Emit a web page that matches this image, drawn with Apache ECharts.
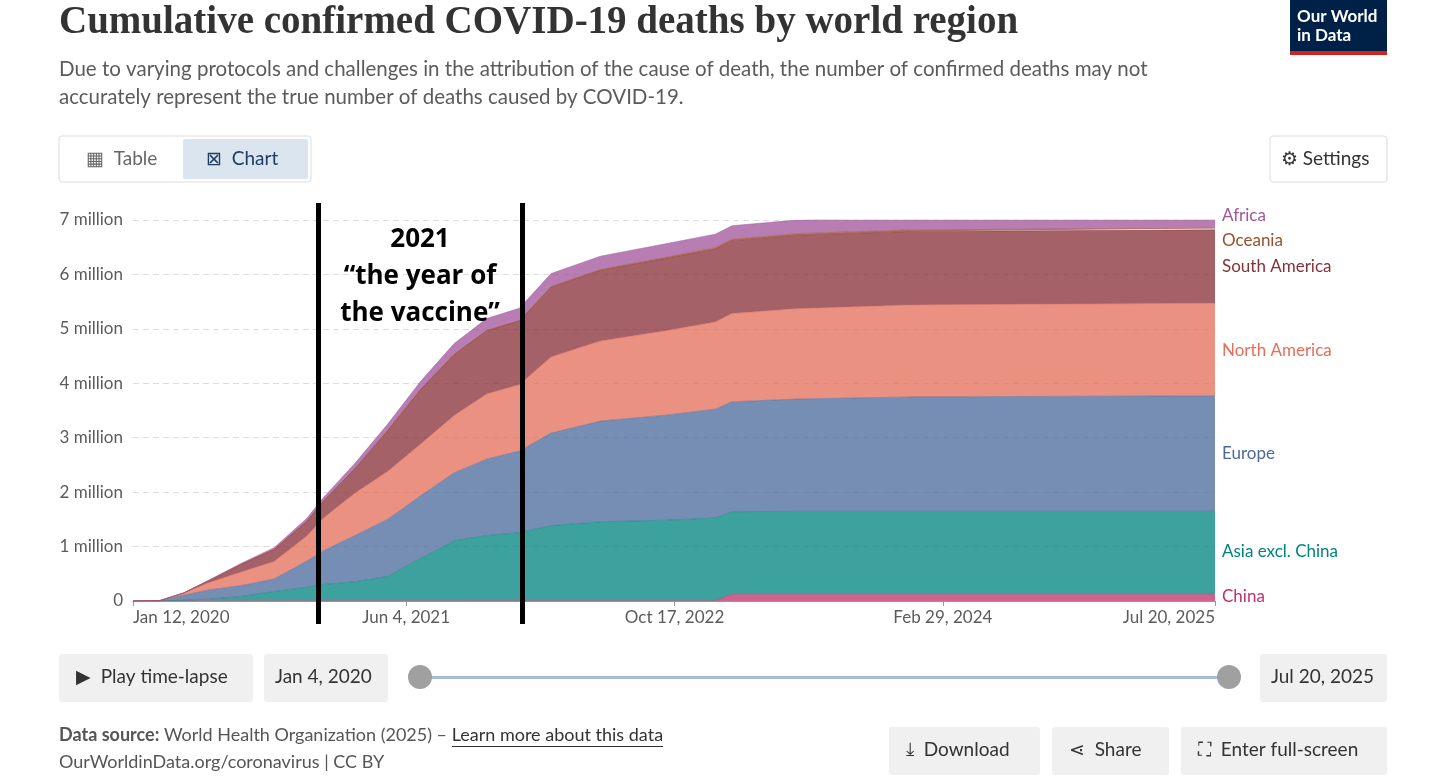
<!DOCTYPE html>
<html><head><meta charset="utf-8">
<script src="https://cdn.jsdelivr.net/npm/echarts@6/dist/echarts.min.js"></script>
<style>html,body{margin:0;background:#fff}#c{width:1456px;height:781px}</style>
</head><body><div id="c"></div>
<script>
// dates of the readings
const dates = ['2020-01-12','2020-03-01','2020-04-15','2020-06-01','2020-08-01','2020-10-01','2020-12-01','2021-01-01','2021-03-01','2021-05-01','2021-07-01','2021-09-01','2021-11-01','2022-01-01','2022-03-01','2022-06-01','2022-10-01','2023-01-01','2023-02-01','2023-06-01','2024-01-01','2025-07-20'];
// values in millions, bottom layer first
const china    = [0,0.003,0.004,0.004,0.004,0.004,0.004,0.004,0.004,0.004,0.004,0.004,0.005,0.005,0.005,0.005,0.005,0.005,0.12,0.12,0.12,0.12];
const asia     = [0,0,0.01,0.03,0.08,0.17,0.25,0.3,0.35,0.45,0.78,1.1,1.2,1.25,1.38,1.45,1.48,1.52,1.52,1.53,1.53,1.53];
const europe   = [0,0.002,0.09,0.17,0.2,0.23,0.48,0.62,0.85,1.05,1.15,1.25,1.4,1.5,1.7,1.85,1.93,2.0,2.02,2.06,2.1,2.12];
const namerica = [0,0,0.04,0.13,0.25,0.32,0.46,0.6,0.78,0.88,0.95,1.05,1.2,1.22,1.4,1.47,1.55,1.6,1.62,1.66,1.69,1.7];
const samerica = [0,0,0.002,0.04,0.14,0.22,0.27,0.31,0.45,0.75,1.0,1.12,1.16,1.17,1.28,1.3,1.33,1.34,1.34,1.35,1.35,1.35];
const oceania  = [0,0,0,0,0,0.001,0.001,0.001,0.001,0.001,0.002,0.003,0.004,0.005,0.01,0.015,0.02,0.025,0.025,0.028,0.03,0.03];
const africa   = [0,0,0.001,0.005,0.02,0.035,0.055,0.065,0.1,0.12,0.15,0.2,0.22,0.23,0.24,0.245,0.25,0.25,0.25,0.25,0.25,0.25];
const tickDates = ['2020-01-12','2021-06-04','2022-10-17','2024-02-29','2025-07-20'];
const tickLabels = ['Jan 12, 2020','Jun 4, 2021','Oct 17, 2022','Feb 29, 2024','Jul 20, 2025'];

const regions = [
  ['China', china, '#c0306a'],
  ['Asia excl. China', asia, '#00847e'],
  ['Europe', europe, '#4c6a9c'],
  ['North America', namerica, '#e56e5a'],
  ['South America', samerica, '#883039'],
  ['Oceania', oceania, '#9a5129'],
  ['Africa', africa, '#a2559c']
];
const labelY = {'Africa':217,'Oceania':242,'South America':268,'North America':352,'Europe':455,'Asia excl. China':553,'China':598};
const F = 'Lato, "Noto Sans", sans-serif';
const ts = d => new Date(d + 'T00:00:00Z').getTime();
const tickTs = tickDates.map(ts);

const series = regions.map(([name, vals, col]) => ({
  name, type:'line', stack:'all', symbol:'none', xAxisIndex:0,
  lineStyle:{width:0.5, color:col}, areaStyle:{color:col, opacity:0.76},
  data: dates.map((d,i)=>[ts(d), vals[i]*1e6])
}));

const g = [];
// title and subtitle
g.push({type:'text',left:59,top:3,style:{text:'Cumulative confirmed COVID-19 deaths by world region',font:'bold 39px "Liberation Serif", serif',fill:'#333'}});
g.push({type:'text',left:59,top:55,style:{text:'Due to varying protocols and challenges in the attribution of the cause of death, the number of confirmed deaths may not\naccurately represent the true number of deaths caused by COVID-19.',font:'20.5px '+F,fill:'#5b5b5b',lineHeight:28}});
// logo
g.push({type:'rect',shape:{x:1290,y:0,width:97,height:52},style:{fill:'#002147'}});
g.push({type:'rect',shape:{x:1290,y:51,width:97,height:4},style:{fill:'#ce261e'}});
g.push({type:'text',left:1297,top:7,style:{text:'Our World\nin Data',font:'bold 17px '+F,fill:'#fff',lineHeight:19}});
// table / chart toggle
g.push({type:'rect',shape:{x:59,y:136,width:252,height:46,r:3},style:{fill:'#fff',stroke:'#ddd'}});
g.push({type:'rect',shape:{x:183,y:139,width:125,height:40,r:2},style:{fill:'#dbe5f0'}});
g.push({type:'text',left:86,top:149,style:{text:'▦  Table',font:'19px '+F,fill:'#666'}});
g.push({type:'text',left:206,top:149,style:{text:'⊠  Chart',font:'19px '+F,fill:'#1d3d63'}});
g.push({type:'rect',shape:{x:1270,y:136,width:117,height:46,r:3},style:{fill:'#fff',stroke:'#ddd'}});
g.push({type:'text',left:1281,top:149,style:{text:'⚙ Settings',font:'19px '+F,fill:'#333'}});
// annotation
g.push({type:'rect',shape:{x:316,y:203,width:5,height:421},style:{fill:'#000'},z:100});
g.push({type:'rect',shape:{x:520,y:203,width:5,height:421},style:{fill:'#000'},z:100});
g.push({type:'text',x:420,y:221,z:100,style:{text:'2021\n“the year of\nthe vaccine”',font:'bold 26px "Open Sans", sans-serif',fill:'#000',align:'center',lineHeight:37}});
// region labels
regions.forEach(([name,,col])=>g.push({type:'text',left:1222,top:labelY[name]-10,style:{text:name,font:'17px '+F,fill:col}}));
// timeline controls
g.push({type:'rect',shape:{x:59,y:654,width:194,height:48,r:3},style:{fill:'#f0f0f0'}});
g.push({type:'text',left:76,top:667,style:{text:'▶  Play time-lapse',font:'19px '+F,fill:'#333'}});
g.push({type:'rect',shape:{x:264,y:654,width:124,height:48,r:3},style:{fill:'#f0f0f0'}});
g.push({type:'text',left:275,top:667,style:{text:'Jan 4, 2020',font:'19px '+F,fill:'#333'}});
g.push({type:'rect',shape:{x:420,y:676,width:810,height:3},style:{fill:'#a7bcd6'}});
g.push({type:'circle',shape:{cx:420,cy:677,r:12},style:{fill:'#a0a0a0'}});
g.push({type:'circle',shape:{cx:1229,cy:677,r:12},style:{fill:'#a0a0a0'}});
g.push({type:'rect',shape:{x:1260,y:654,width:127,height:48,r:3},style:{fill:'#f0f0f0'}});
g.push({type:'text',left:1271,top:667,style:{text:'Jul 20, 2025',font:'19px '+F,fill:'#333'}});
// footer
g.push({type:'text',left:59,top:726,style:{rich:{b:{font:'bold 18px '+F,fill:'#555'},n:{font:'18px '+F,fill:'#555'},u:{font:'18px '+F,fill:'#333'}},text:'{b|Data source:}{n| World Health Organization (2025) – }{u|Learn more about this data}'}});
g.push({type:'rect',shape:{x:452,y:746,width:211,height:1},style:{fill:'#333'}});
g.push({type:'text',left:59,top:753,style:{text:'OurWorldinData.org/coronavirus | CC BY',font:'18px '+F,fill:'#555'}});
[[889,151,'⤓  Download'],[1052,117,'⋖  Share'],[1181,206,'⛶  Enter full-screen']].forEach(([x,w,t])=>{
  g.push({type:'rect',shape:{x,y:727,width:w,height:48,r:3},style:{fill:'#f0f0f0'}});
  g.push({type:'text',left:x+17,top:740,style:{text:t,font:'19px '+F,fill:'#333'}});
});

const chart = echarts.init(document.getElementById('c'));
chart.setOption({
  animation:false,
  grid:{left:133,right:241,top:220,bottom:180},
  xAxis:[
    {type:'time',min:tickTs[0],max:tickTs[4],show:false},
    {type:'value',min:tickTs[0],max:tickTs[4],position:'bottom',
      axisLine:{lineStyle:{color:'#999'}},
      axisTick:{customValues:tickTs,lineStyle:{color:'#999'}},
      splitLine:{show:false},
      axisLabel:{customValues:tickTs,color:'#5b5b5b',fontSize:17,fontFamily:'Lato',
        alignMinLabel:'left',alignMaxLabel:'right',
        formatter:v=>tickLabels[tickTs.indexOf(v)]||''}}
  ],
  yAxis:{type:'value',min:0,max:7e6,interval:1e6,
    axisLine:{show:false},axisTick:{show:false},
    splitLine:{lineStyle:{type:[6,4],color:'#ddd'}},
    axisLabel:{color:'#5b5b5b',fontSize:17,fontFamily:'Lato',margin:10,
      formatter:v=>v===0?'0':(v/1e6)+' million'}},
  series,
  graphic:g
});
</script></body></html>
